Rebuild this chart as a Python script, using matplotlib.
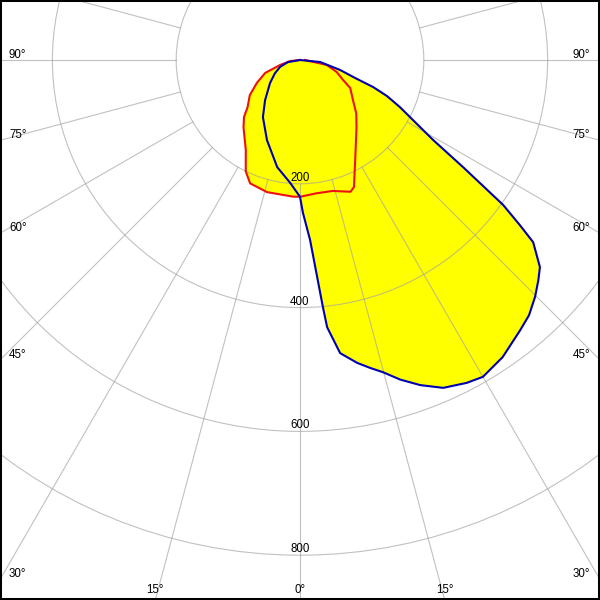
import numpy as np
import matplotlib
matplotlib.use("Agg")
import matplotlib.pyplot as plt
from matplotlib.patches import Circle

# ---- data (luminous intensity, cd, vs angle from nadir, deg) ----
red_gamma = [-90, -84, -76, -69.6, -62, -55, -48, -44.5, -40, -31, -26, -22, -14, -3, 0,
             7, 14, 21, 23, 29, 40, 46.6, 53, 60.8, 65, 72, 79.5, 90]
red_I = [0, 16, 33, 60, 79, 99, 114, 129, 142, 170, 200, 215, 220, 221, 221,
         217, 218, 228, 223, 184, 142, 125, 107, 93, 77, 62, 44, 8]

blue_gamma = [-90, -80, -71, -62, -52.5, -41, -33, -22.4, -12, -4.6, 0, 1.1, 3.2, 5.3, 5.8,
              7.8, 10.7, 12.8, 14.9, 17.4, 20.3, 23.6, 27.3, 30, 34.3, 39.2, 41.9, 44.8,
              47.3, 49.2, 52, 53.1, 54.5, 56.7, 59, 64.8, 67.5, 69.7, 71.9, 76, 84.3, 90]
blue_I = [0, 20, 34, 46, 61, 86, 110, 140, 177, 199, 221, 247, 291, 401, 434,
          478, 498, 510, 522, 541, 560, 578, 587, 591, 581, 563, 554, 539,
          524, 512, 478, 444, 403, 315, 251, 178, 152, 126, 94, 67, 33, 0]

ring_values = [200, 400, 600, 800, 1000]
ring_labels = ["200", "400", "600", "800"]
angle_ticks = list(range(0, 360, 15))

# ---- layout ----
S = 0.619          # pixels per cd
OX, OY = 300, 60   # origin in pixels
W = H = 600

fig = plt.figure(figsize=(6, 6), dpi=100)
ax = fig.add_axes([0, 0, 1, 1])
ax.set_xlim(-OX / S, (W - OX) / S)
ax.set_ylim(-(H - OY) / S, OY / S)
ax.set_xticks([]); ax.set_yticks([])
for sp in ax.spines.values():
    sp.set_linewidth(2.9)
    sp.set_color("black")
    sp.set_zorder(10)


def to_xy(g, I):
    g = np.radians(np.asarray(g, float))
    I = np.asarray(I, float)
    return I * np.sin(g), -I * np.cos(g)


rx, ry = to_xy(red_gamma, red_I)
bx, by = to_xy(blue_gamma, blue_I)

ax.fill(rx, ry, color="#ffff00", lw=0, zorder=1)
ax.fill(bx, by, color="#ffff00", lw=0, zorder=1)

gcol = "#a0a0a0"
for r in ring_values:
    ax.add_patch(Circle((0, 0), r, fill=False, ec=gcol, lw=0.8, alpha=0.65, zorder=2))
for a in angle_ticks:
    t = np.radians(a)
    ax.plot([200 * np.sin(t), 1300 * np.sin(t)], [-200 * np.cos(t), -1300 * np.cos(t)],
            color=gcol, lw=0.8, alpha=0.65, zorder=2)

ax.plot(rx, ry, color="#ee1111", lw=1.5, zorder=3, solid_joinstyle="round")
ax.plot(bx, by, color="#0000b0", lw=1.5, zorder=4, solid_joinstyle="round")

font = dict(family=["Liberation Sans", "DejaVu Sans"], fontsize=8.3, color="black", zorder=5)


def px2d(px, py):
    return (px - OX) / S, (OY - py) / S


# ring labels
for v, lab in zip(ring_values, ring_labels):
    ax.text(0, -v, lab, ha="center", va="bottom", **font)

# angle labels on side edges
for a in [90, 75, 60, 45, 30]:
    t = np.radians(a)
    yint = OY + OX / np.tan(t)
    x, y = px2d(9, yint - 2.5)
    ax.text(x, y, f"{a}°", ha="left", va="baseline", **font)
    x, y = px2d(W - 10, yint - 2.5)
    ax.text(x, y, f"{a}°", ha="right", va="baseline", **font)

# angle labels on bottom edge
for a in [-15, 0, 15]:
    t = np.radians(a)
    xint = OX + (H - OY) * np.tan(t)
    x, y = px2d(xint, 593)
    ax.text(x, y, f"{abs(a)}°", ha="center", va="baseline", **font)

fig.savefig("out.png", dpi=100)
